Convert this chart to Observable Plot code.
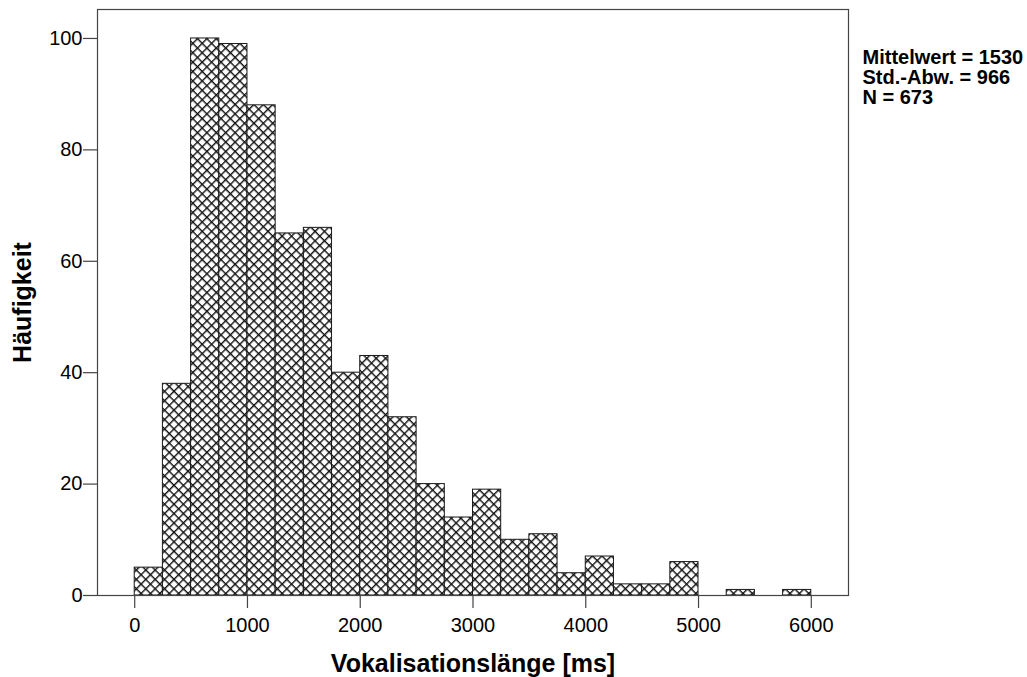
<!DOCTYPE html>
<html>
<head>
<meta charset="utf-8">
<script src="https://cdn.jsdelivr.net/npm/d3@7"></script>
<script src="https://cdn.jsdelivr.net/npm/@observablehq/plot@0.6"></script>
<style>
  html, body { margin: 0; padding: 0; background: #fff; overflow: hidden; }
</style>
</head>
<body>
<div id="chart"></div>
<script>
// Histogram bins (ms) and counts
const binLow  = [0, 250, 500, 750, 1000, 1250, 1500, 1750, 2000, 2250, 2500, 2750,
                 3000, 3250, 3500, 3750, 4000, 4250, 4500, 4750, 5000, 5250, 5500, 5750];
const binHigh = [250, 500, 750, 1000, 1250, 1500, 1750, 2000, 2250, 2500, 2750, 3000,
                 3250, 3500, 3750, 4000, 4250, 4500, 4750, 5000, 5250, 5500, 5750, 6000];
const counts  = [5, 38, 100, 99, 88, 65, 66, 40, 43, 32, 20, 14,
                 19, 10, 11, 4, 7, 2, 2, 6, 0, 1, 0, 1];

const xTicks = [0, 1000, 2000, 3000, 4000, 5000, 6000];
const yTicks = [0, 20, 40, 60, 80, 100];

const xTitle = "Vokalisationslänge [ms]";
const yTitle = "Häufigkeit";
const statsLines = ["Mittelwert = 1530", "Std.-Abw. = 966", "N = 673"];

const data = binLow.map((lo, i) => ({lo, hi: binHigh[i], count: counts[i]}));

const font = "'Liberation Sans', Arial, Helvetica, sans-serif";

const svg = Plot.plot({
  width: 1027,
  height: 677,
  marginLeft: 97,
  marginRight: 179,
  marginTop: 9,
  marginBottom: 82,
  style: {fontFamily: font, fontSize: "20px", color: "#000", background: "#fff", overflow: "visible"},
  x: {domain: [-330, 6330]},
  y: {domain: [0, 105.2]},
  marks: [
    Plot.rectY(data.filter(d => d.count > 0), {
      x1: "lo", x2: "hi", y: "count",
      fill: "url(#hatch)", stroke: "#1a1a1a", strokeWidth: 1
    }),
    Plot.frame({stroke: "#444", strokeWidth: 1.2}),
    Plot.axisX({ticks: xTicks, tickSize: 13, tickPadding: 9, label: null,
                stroke: "#444", strokeWidth: 1.2, fontSize: 20, tickFormat: d => String(d)}),
    Plot.axisY({ticks: yTicks, tickSize: 14, tickPadding: 1, label: null,
                stroke: "#444", strokeWidth: 1.2, fontSize: 20, tickFormat: d => String(d)}),
    Plot.text([xTitle], {frameAnchor: "bottom", textAnchor: "middle", lineAnchor: "bottom", dy: 76,
                         fontSize: 25, fontWeight: "bold", fill: "#000"}),
    Plot.text([yTitle], {frameAnchor: "left", textAnchor: "middle", lineAnchor: "bottom",
                         rotate: -90, dx: -67,
                         fontSize: 25, fontWeight: "bold", fill: "#000"}),
    Plot.text([statsLines.join("\n")], {frameAnchor: "top-right", textAnchor: "start",
                         lineAnchor: "top", dx: 14, dy: 40.3, lineHeight: 1.0,
                         fontSize: 20, fontWeight: "bold", fill: "#000"})
  ]
});

const p = 6.65;
svg.insertAdjacentHTML("afterbegin",
  `<defs><pattern id="hatch" patternUnits="userSpaceOnUse" width="${p}" height="${p}" patternTransform="rotate(45)">
     <rect width="${p}" height="${p}" fill="#fff"/>
     <rect x="0" y="0" width="${p}" height="1.4" fill="#111"/>
     <rect x="0" y="0" width="1.4" height="${p}" fill="#111"/>
   </pattern></defs>`);

document.getElementById("chart").appendChild(svg);
</script>
</body>
</html>
